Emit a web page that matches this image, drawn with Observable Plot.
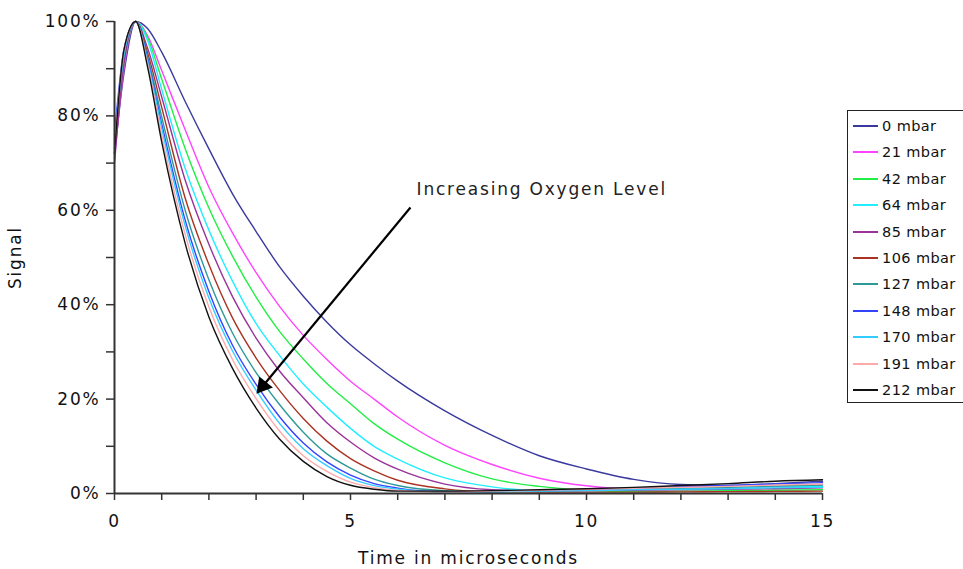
<!DOCTYPE html>
<html><head><meta charset="utf-8">
<script src="https://cdn.jsdelivr.net/npm/d3@7"></script>
<script src="https://cdn.jsdelivr.net/npm/@observablehq/plot@0.6"></script>
<style>
body{margin:0;background:#fff;font-family:"DejaVu Sans",sans-serif;}
#wrap{position:relative;width:963px;height:569px;overflow:hidden;}
#wrap svg text{letter-spacing:1.8px;}
#legend{position:absolute;left:847px;top:110px;width:125px;height:293px;border:1.5px solid #222;box-sizing:border-box;background:#fff;}
.row{position:absolute;left:5px;height:20px;display:flex;align-items:center;font-size:14.5px;color:#111;white-space:nowrap;letter-spacing:0.4px;}
.row svg{margin-right:4px;}
</style></head>
<body><div id="wrap"></div>
<script>
// ---- data (percent signal vs time in microseconds) ----
const times = [0, 0.2, 0.45, 0.7, 1, 1.5, 2, 2.5, 3, 3.5, 4, 4.5, 5, 5.5, 6, 7, 8, 9, 10, 11, 12, 13, 14, 15];
const seriesNames = ["0 mbar","21 mbar","42 mbar","64 mbar","85 mbar","106 mbar","127 mbar","148 mbar","170 mbar","191 mbar","212 mbar"];
const seriesColors = ["#3a3a9e","#ff44ff","#22ee44","#22eeff","#993399","#aa3322","#2e9999","#3344ff","#33ccff","#ffaaaa","#111111"];
const mbar0   = [72, 89, 100, 98.5, 93.5, 83, 73, 63.5, 55.5, 48, 41.8, 36.3, 31.5, 27.5, 23.8, 17.5, 12.3, 8.0, 5.2, 3.0, 1.9, 1.7, 2.1, 2.6];
const mbar21  = [71, 90, 100, 97, 89.6, 77, 64.9, 55.2, 46.8, 39.6, 33.5, 28.4, 23.8, 20.0, 16.2, 10.2, 6.15, 3.24, 1.63, 0.9, 1.0, 1.2, 1.5, 1.8];
const mbar42  = [73, 91, 100, 96.6, 87.8, 73, 60.5, 50.3, 41.6, 34.3, 28.5, 23.3, 19.0, 14.8, 11.5, 6.5, 3.1, 1.5, 0.7, 0.4, 0.5, 0.6, 0.7, 0.8];
const mbar64  = [74, 92, 100, 96, 85.6, 68.8, 55.8, 45, 36, 29.2, 23.2, 18.3, 13.8, 10.0, 7.3, 3.3, 1.4, 0.6, 0.6, 0.8, 1.0, 1.2, 1.4, 1.5];
const mbar85  = [70, 91, 100, 94.4, 84, 66.3, 52.8, 41.7, 32.9, 25.9, 20.3, 15.0, 10.9, 7.55, 5.15, 2.0, 0.8, 0.5, 0.6, 0.7, 0.8, 0.9, 1.0, 1.2];
const mbar106 = [73, 93, 100, 93.4, 81.8, 62.5, 48.5, 37.2, 28.7, 21.8, 15.9, 11.1, 7.4, 4.8, 2.8, 0.98, 0.36, 0.3, 0.3, 0.3, 0.35, 0.4, 0.45, 0.5];
const mbar127 = [75, 93, 100, 92.6, 79.8, 59.9, 45.3, 34, 25.6, 18.8, 13.0, 8.4, 5.4, 3.06, 1.7, 0.57, 0.3, 0.5, 0.7, 0.9, 1.1, 1.3, 1.6, 1.8];
const mbar148 = [76, 94, 100, 92, 78.3, 57.8, 42.8, 31.4, 23.1, 16.2, 10.7, 6.7, 3.9, 2.1, 1.15, 0.35, 0.4, 0.6, 0.8, 1.1, 1.4, 1.7, 2.0, 2.3];
const mbar170 = [74, 93, 100, 91.6, 77.4, 56.6, 41.4, 30.2, 21.9, 14.8, 9.5, 5.9, 3.2, 1.67, 0.92, 0.3, 0.4, 0.5, 0.6, 0.8, 0.9, 1.0, 1.2, 1.3];
const mbar191 = [73, 94, 100, 91, 75.8, 54.8, 39.5, 28.4, 20.1, 13.2, 8.0, 4.7, 2.4, 1.25, 0.67, 0.3, 0.5, 0.7, 0.9, 1.1, 1.3, 1.5, 1.8, 2.0];
const mbar212 = [72, 94, 100, 90.4, 74.5, 52.9, 37.4, 26.5, 18.1, 11.5, 6.8, 3.6, 1.74, 0.9, 0.5, 0.5, 0.6, 0.8, 1.0, 1.3, 1.7, 2.1, 2.6, 2.9];
const xTicks = [0,1,2,3,4,5,6,7,8,9,10,11,12,13,14,15];
const xTickLabels = [0, 5, 10, 15];
const yTicks = [0,10,20,30,40,50,60,70,80,90,100];
const yTickLabels = [0, 20, 40, 60, 80, 100];
const annotationText = "Increasing Oxygen Level";
const annotationAt = [6.4, 64.4];
const arrowFrom = [6.27, 60.6];
const arrowTo = [3.03, 21.4];

// ---- build table ----
const allSeries = [mbar0, mbar21, mbar42, mbar64, mbar85, mbar106, mbar127, mbar148, mbar170, mbar191, mbar212];
const rows = [];
allSeries.forEach((vals, i) => vals.forEach((v, j) => rows.push({t: times[j], v, series: seriesNames[i]})));
const headFrac = 0.035;
const head = {x: arrowTo[0] + headFrac * (arrowFrom[0] - arrowTo[0]), y: arrowTo[1] + headFrac * (arrowFrom[1] - arrowTo[1])};

const chart = Plot.plot({
  width: 963, height: 569,
  marginLeft: 114, marginRight: 141, marginTop: 21, marginBottom: 76,
  style: {fontFamily: "'DejaVu Sans', sans-serif", fontSize: "17px", color: "#111", background: "#fff", overflow: "visible"},
  x: {domain: [0, 15]},
  y: {domain: [0, 100]},
  color: {domain: seriesNames, range: seriesColors},
  marks: [
    Plot.axisX({ticks: xTicks, tickFormat: d => xTickLabels.includes(d) ? String(d) : "", tickSize: 7, tickPadding: 14,
      stroke: "#333", strokeWidth: 1.5, fontSize: 17, label: "Time in microseconds", labelAnchor: "center", labelArrow: "none", labelOffset: 70}),
    Plot.axisY({ticks: yTicks, tickFormat: d => yTickLabels.includes(d) ? d + "%" : "", tickSize: 8, tickPadding: 6,
      stroke: "#333", strokeWidth: 1.5, fontSize: 17, label: "Signal", labelAnchor: "center", labelArrow: "none", labelOffset: 106}),
    Plot.line(rows, {x: "t", y: "v", z: "series", stroke: "series", curve: "monotone-x", strokeWidth: 1.4}),
    Plot.ruleX([0], {stroke: "#333", strokeWidth: 2}),
    Plot.ruleY([0], {stroke: "#333", strokeWidth: 2}),
    Plot.link([{x1: arrowFrom[0], y1: arrowFrom[1], x2: arrowTo[0], y2: arrowTo[1]}],
      {x1: "x1", y1: "y1", x2: "x2", y2: "y2", stroke: "#000", strokeWidth: 2.2}),
    Plot.dot([head], {x: "x", y: "y", symbol: "triangle", r: 6.5, rotate: 219, fill: "#000", stroke: "none"}),
    Plot.text([{x: annotationAt[0], y: annotationAt[1], label: annotationText}],
      {x: "x", y: "y", text: "label", textAnchor: "start", fontSize: 17, fill: "#222"})
  ]
});
const wrap = document.getElementById("wrap");
wrap.appendChild(chart);

// ---- legend (HTML, to the right of the plot) ----
const legend = document.createElement("div");
legend.id = "legend";
seriesNames.forEach((name, i) => {
  const row = document.createElement("div");
  row.className = "row";
  row.style.top = (5 + i * 26.4) + "px";
  row.innerHTML = `<svg width="25" height="4"><line x1="0" y1="2" x2="25" y2="2" stroke="${seriesColors[i]}" stroke-width="2"/></svg><span>${name}</span>`;
  legend.appendChild(row);
});
wrap.appendChild(legend);
</script>
</body></html>
